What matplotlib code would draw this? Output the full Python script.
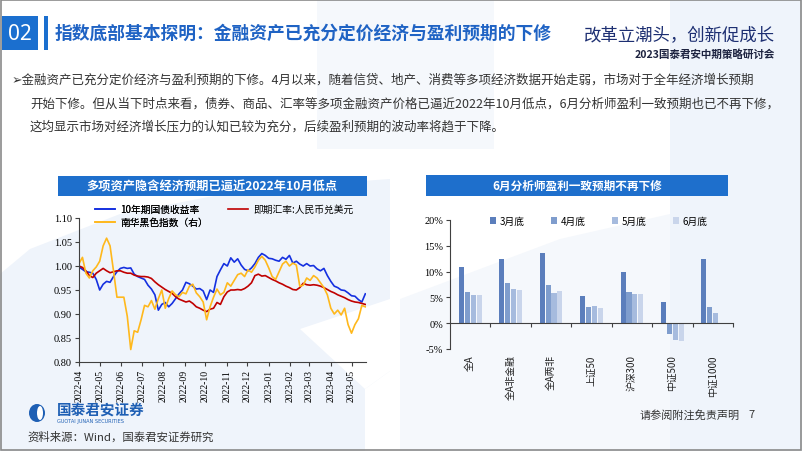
import matplotlib
matplotlib.use("Agg")
import matplotlib.pyplot as plt
import matplotlib.patches as mpatches
import numpy as np
import pandas as pd

plt.rcParams['font.family'] = ['Noto Sans CJK SC', 'DejaVu Sans']
plt.rcParams['axes.unicode_minus'] = False

# ---------------- data: left chart (normalised, 5-day samples) ----------------
start_date = "2022-04-01"
bond_10y = [0.998, 0.993, 0.988, 0.987, 0.985, 0.972, 0.950, 0.962, 0.968, 0.966,
            0.978, 0.988, 0.995, 0.997, 0.995, 0.996, 0.983, 0.978, 0.975, 0.972,
            0.960, 0.952, 0.940, 0.908, 0.920, 0.924, 0.915, 0.922, 0.932, 0.942,
            0.950, 0.966, 0.963, 0.958, 0.952, 0.953, 0.948, 0.930, 0.950, 0.945,
            0.978, 0.992, 1.005, 1.000, 1.017, 1.008, 1.015, 1.002, 0.993, 0.990,
            0.996, 1.005, 1.018, 1.026, 1.022, 1.016, 1.015, 1.012, 1.010, 1.018,
            1.014, 1.022, 1.006, 1.010, 1.004, 1.000, 1.005, 1.000, 1.001, 0.994,
            0.990, 0.995, 0.980, 0.968, 0.958, 0.955, 0.950, 0.949, 0.944, 0.938,
            0.937, 0.930, 0.925, 0.942]
usdcny = [1.000, 0.997, 0.990, 0.980, 0.976, 0.985, 0.990, 0.995, 0.990, 0.986,
          0.988, 0.990, 0.990, 0.987, 0.985, 0.985, 0.981, 0.979, 0.978, 0.978,
          0.977, 0.974, 0.967, 0.961, 0.956, 0.951, 0.947, 0.943, 0.936, 0.931,
          0.928, 0.925, 0.927, 0.922, 0.915, 0.912, 0.908, 0.905, 0.910, 0.912,
          0.924, 0.920, 0.936, 0.946, 0.950, 0.950, 0.951, 0.950, 0.953, 0.958,
          0.965, 0.980, 0.983, 0.979, 0.980, 0.976, 0.972, 0.969, 0.965, 0.962,
          0.958, 0.955, 0.951, 0.950, 0.955, 0.964, 0.961, 0.960, 0.961, 0.960,
          0.958, 0.955, 0.951, 0.947, 0.944, 0.940, 0.937, 0.934, 0.930, 0.927,
          0.925, 0.924, 0.922, 0.920]
nanhua_black = [1.005, 1.018, 0.985, 0.975, 0.990, 0.998, 1.010, 1.042, 1.058, 1.042,
                0.990, 0.935, 0.935, 0.935, 0.895, 0.826, 0.865, 0.862, 0.888, 0.918,
                0.915, 0.928, 0.910, 0.932, 0.950, 0.912, 0.932, 0.948, 0.940, 0.936,
                0.945, 0.942, 0.958, 0.962, 0.944, 0.936, 0.925, 0.888, 0.915, 0.935,
                0.952, 0.940, 0.945, 0.965, 0.958, 0.970, 0.982, 0.985, 0.978, 0.992,
                0.987, 0.998, 1.012, 1.020, 1.012, 0.996, 0.978, 0.972, 0.988, 1.004,
                1.010, 1.000, 1.006, 1.002, 0.958, 0.960, 0.975, 0.970, 0.980, 0.975,
                0.965, 0.955, 0.940, 0.912, 0.900, 0.908, 0.898, 0.912, 0.878, 0.860,
                0.878, 0.890, 0.918, 0.915]
left_labels = ["10年期国债收益率", "即期汇率:人民币兑美元", "南华黑色指数（右）"]
left_yticks = [0.80, 0.85, 0.90, 0.95, 1.00, 1.05, 1.10]

# ---------------- data: right chart ----------------
categories = ["全A", "全A非金融", "全A两非", "上证50", "沪深300", "中证500", "中证1000"]
months = ["3月底", "4月底", "5月底", "6月底"]
eps_mar = [10.9, 12.4, 13.7, 5.2, 10.0, 4.2, 12.4]
eps_apr = [6.1, 7.8, 7.5, 3.2, 6.0, -2.1, 3.1]
eps_may = [5.5, 6.6, 5.8, 3.4, 5.6, -3.2, 1.9]
eps_jun = [5.5, 6.4, 6.2, 3.0, 5.7, -3.5, np.nan]
right_yticks = [-5, 0, 5, 10, 15, 20]

W, H = 802, 452
fig = plt.figure(figsize=(W / 100, H / 100), dpi=100)

# ---------------- slide background ----------------
bg = fig.add_axes([0, 0, 1, 1])
bg.set_xlim(0, W)
bg.set_ylim(H, 0)
bg.axis('off')
light = "#EFF4FB"
lighter = "#F5F8FC"
bg.add_patch(mpatches.Rectangle((317, 0), 177, 150, color=lighter, lw=0))
bg.add_patch(mpatches.Rectangle((670, 0), 132, 452, color=light, lw=0))
bg.add_patch(mpatches.Polygon([(0, 452), (365, 452), (365, 390), (390, 372), (390, 160),
                               (0, 160)], closed=True, color=light, lw=0))
bg.add_patch(mpatches.Polygon([(0, 160), (390, 160), (390, 180), (250, 190), (120, 215),
                               (30, 250), (0, 275)], closed=True, color="white", lw=0))
bg.add_patch(mpatches.Polygon([(300, 330), (390, 300), (390, 372), (365, 390)],
                              closed=True, color="white", lw=0))
bg.add_patch(mpatches.Polygon([(400, 300), (560, 240), (670, 215), (670, 452), (400, 452)],
                              closed=True, color=lighter, lw=0))
# frame
bg.add_patch(mpatches.Rectangle((0.5, 0.5), W - 1.5, H - 1.5, fill=False, ec="#8A8A8A", lw=1.2))

# header
bg.add_patch(mpatches.Rectangle((2, 17), 36, 34, color="#1B6FCF", lw=0))
bg.text(20, 34, "02", color="white", fontsize=15, ha="center", va="center",
        family=["Noto Sans", "DejaVu Sans"])
bg.add_patch(mpatches.Rectangle((44, 17), 4, 34, color="#1B6FCF", lw=0))
bg.text(55, 34, "指数底部基本探明：金融资产已充分定价经济与盈利预期的下修", color="#1F63C4",
        fontsize=12.8, fontweight="bold", ha="left", va="center")
bg.text(775, 36, "改革立潮头，创新促成长", color="#1D2F72", fontsize=12.5,
        ha="right", va="center", fontstyle="italic")
bg.text(775, 55, "2023国泰君安中期策略研讨会", color="#1D2340", fontsize=7.6,
        fontweight="bold", ha="right", va="center")

# paragraph
para = ["➢金融资产已充分定价经济与盈利预期的下修。4月以来，随着信贷、地产、消费等多项经济数据开始走弱，市场对于全年经济增长预期",
        "开始下修。但从当下时点来看，债券、商品、汇率等多项金融资产价格已逼近2022年10月低点，6月分析师盈利一致预期也已不再下修，",
        "这均显示市场对经济增长压力的认知已较为充分，后续盈利预期的波动率将趋于下降。"]
bg.text(12, 80, para[0], fontsize=9.0, color="#333333", ha="left", va="center",
        family=["Noto Sans CJK SC", "DejaVu Sans"])
bg.text(30, 104, para[1], fontsize=9.0, color="#333333", ha="left", va="center")
bg.text(30, 127, para[2], fontsize=9.0, color="#333333", ha="left", va="center")

# chart title bars
bg.add_patch(mpatches.Rectangle((58, 177), 309, 20, color="#1E6FCC", lw=0))
bg.text(212, 187, "多项资产隐含经济预期已逼近2022年10月低点", color="white", fontsize=8.8,
        fontweight="bold", ha="center", va="center")
bg.add_patch(mpatches.Rectangle((426, 176), 302, 21, color="#1E6FCC", lw=0))
bg.text(577, 186.5, "6月分析师盈利一致预期不再下修", color="white", fontsize=8.4,
        fontweight="bold", ha="center", va="center")

# footer
bg.add_patch(mpatches.Ellipse((37, 414), 16, 18, color="#1E5FB4", lw=0))
bg.add_patch(mpatches.Ellipse((40, 414), 6, 14, color="white", lw=0))
bg.text(57, 410, "国泰君安证券", color="#1E5FB4", fontsize=10.5, fontweight="bold",
        ha="left", va="center")
bg.text(57, 422, "GUOTAI JUNAN SECURITIES", color="#1E5FB4", fontsize=3.6,
        ha="left", va="center", family=["DejaVu Sans"])
bg.text(27, 437, "资料来源：Wind，国泰君安证券研究", color="#333333", fontsize=8.2,
        ha="left", va="center")
bg.text(640, 415, "请参阅附注免责声明", color="#333333", fontsize=8, ha="left", va="center")
bg.text(748, 415, "7", color="#333333", fontsize=8, ha="left", va="center")

serif = ["Liberation Serif", "DejaVu Serif"]

# ---------------- left chart ----------------
dates = pd.date_range(start_date, periods=len(bond_10y), freq="5D")
axL = fig.add_axes([79 / W, 1 - 363 / H, (366 - 79) / W, (363 - 219) / H])
axL.patch.set_alpha(0)
lb, = axL.plot(dates, bond_10y, color="#1530E0", lw=1.2, label=left_labels[0])
lr, = axL.plot(dates, usdcny, color="#C00000", lw=1.2, label=left_labels[1])
lo, = axL.plot(dates, nanhua_black, color="#FFB81C", lw=1.2, label=left_labels[2])
axL.set_ylim(0.80, 1.10)
axL.set_yticks(left_yticks)
axL.set_yticklabels([f"{v:.2f}" for v in left_yticks], family=serif, fontsize=7.5)
axL.set_xlim(pd.Timestamp("2022-04-01"), pd.Timestamp("2023-05-22"))
mt = pd.date_range("2022-04-01", "2023-05-01", freq="MS")
axL.set_xticks(mt)
axL.set_xticklabels([d.strftime("%Y-%m") for d in mt], rotation=90, family=serif, fontsize=7)
for s in ["top", "right"]:
    axL.spines[s].set_visible(False)
for s in ["left", "bottom"]:
    axL.spines[s].set_color("#404040")
    axL.spines[s].set_linewidth(0.8)
axL.tick_params(axis="both", direction="out", length=3, width=0.8, color="#404040", pad=2)

legL1 = fig.legend(handles=[lb, lo], loc="upper left", bbox_to_anchor=(95 / W, 1 - 205 / H),
                   frameon=False, fontsize=7, handlelength=2.1, handletextpad=0.5,
                   borderpad=0, labelspacing=0.35, borderaxespad=0)
fig.add_artist(legL1)
fig.legend(handles=[lr], loc="upper left", bbox_to_anchor=(228 / W, 1 - 205 / H),
           frameon=False, fontsize=7, handlelength=2.1, handletextpad=0.5,
           borderpad=0, borderaxespad=0)

# ---------------- right chart ----------------
axR = fig.add_axes([450 / W, 1 - 350 / H, (733 - 450) / W, (350 - 221) / H])
axR.patch.set_alpha(0)
x = np.arange(len(categories))
bw = 0.125
colors = ["#5B7EBC", "#7F9DCD", "#A6BBDE", "#C9D5EB"]
series = [eps_mar, eps_apr, eps_may, eps_jun]
offsets = [-0.219, -0.073, 0.073, 0.219]
bars = []
for vals, off, c, lab in zip(series, offsets, colors, months):
    b = axR.bar(x + off, vals, width=bw, color=c, label=lab, zorder=2)
    bars.append(b)
axR.set_xlim(-0.5, len(categories) - 0.5)
axR.set_ylim(-5, 20)
axR.set_yticks(right_yticks)
axR.set_yticklabels([f"{v}%" for v in right_yticks], family=serif, fontsize=7.5)
axR.spines["bottom"].set_position(("data", 0))
for s in ["top", "right"]:
    axR.spines[s].set_visible(False)
for s in ["left", "bottom"]:
    axR.spines[s].set_color("#404040")
    axR.spines[s].set_linewidth(0.8)
axR.set_xticks(np.arange(len(categories)) + 0.5)
axR.set_xticklabels([])
axR.tick_params(axis="both", direction="out", length=3, width=0.8, color="#404040", pad=2)
for xi, cat in zip(x, categories):
    axR.text(xi, -6.0, cat, rotation=90, ha="center", va="top", fontsize=7,
             color="#222222", family=["Noto Sans CJK SC", "DejaVu Sans"])

fig.legend(handles=bars, labels=months, loc="center left", bbox_to_anchor=(490 / W, 1 - 222 / H),
           ncol=4, frameon=False, fontsize=7, handlelength=0.6, handleheight=0.6,
           handletextpad=0.4, columnspacing=2.7, borderpad=0, borderaxespad=0)

fig.savefig("out.png", dpi=100)
